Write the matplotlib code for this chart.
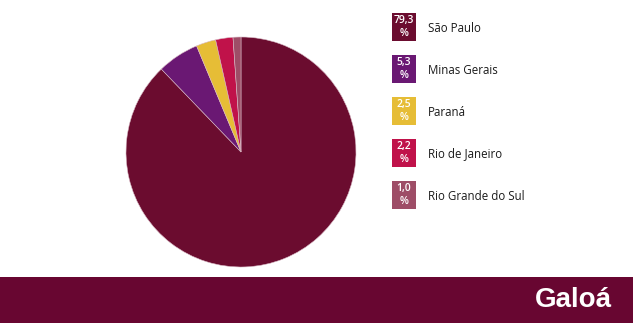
import matplotlib.pyplot as plt
from matplotlib.patches import Rectangle

# dados
estados = ['São Paulo', 'Minas Gerais', 'Paraná', 'Rio de Janeiro', 'Rio Grande do Sul']
valores = [79.3, 5.3, 2.5, 2.2, 1.0]
rotulos = ['79,3', '5,3', '2,5', '2,2', '1,0']
cores = ['#6b0c2f', '#6a1873', '#e6bd36', '#c0124a', '#9e4d67']

W, H = 633, 323
fig = plt.figure(figsize=(W / 100, H / 100), dpi=100)
fig.patch.set_facecolor('white')

# pizza
cx, cy, r = 241, 152, 115
ax = fig.add_axes([(cx - r) / W, (H - cy - r) / H, 2 * r / W, 2 * r / H])
ax.pie(valores, colors=cores, startangle=90, counterclock=False,
       wedgeprops=dict(linewidth=0.4, edgecolor='#d8b8c4'))
ax.set_xlim(-1, 1)
ax.set_ylim(-1, 1)
ax.set_aspect('equal')
ax.axis('off')

# camada de sobreposicao em pixels
ov = fig.add_axes([0, 0, 1, 1])
ov.set_xlim(0, W)
ov.set_ylim(H, 0)
ov.axis('off')

# legenda
for i, (nome, rot, cor) in enumerate(zip(estados, rotulos, cores)):
    y0 = 13 + i * 42
    ov.add_patch(Rectangle((392, y0), 24, 28, facecolor=cor, edgecolor='none'))
    ov.text(404, y0 + 8, rot, color='white', fontsize=7.5, ha='center', va='center',
            family='Open Sans', fontweight='semibold')
    ov.text(404, y0 + 21, '%', color='white', fontsize=7.5, ha='center', va='center',
            family='Open Sans', fontweight='semibold')
    ov.text(428, y0 + 15, nome, color='#1a1a1a', fontsize=8.3, ha='left', va='center',
            family='Open Sans')

# faixa inferior
ov.add_patch(Rectangle((0, 277), W, H - 277, facecolor='#680631', edgecolor='none'))
ov.text(612, 300, 'Galoá', color='white', fontsize=20, fontweight='bold',
        ha='right', va='center', family='Liberation Sans')

fig.savefig('out.png', dpi=100)
